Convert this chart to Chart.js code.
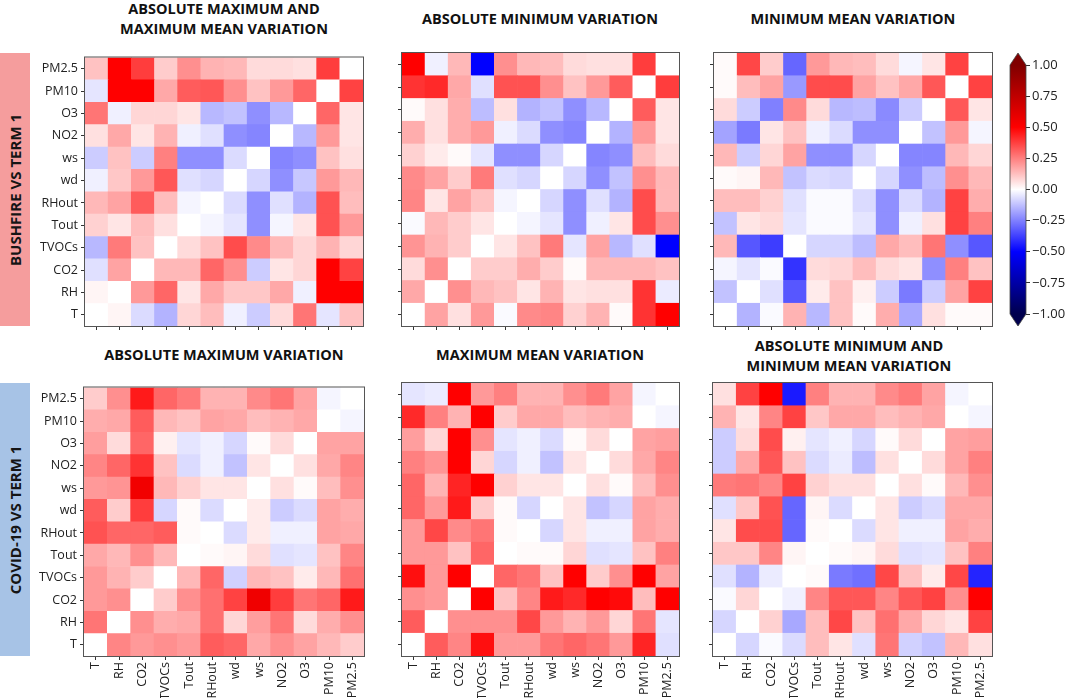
<!DOCTYPE html>
<html><head><meta charset="utf-8">
<script src="https://cdn.jsdelivr.net/npm/chart.js@4.4.0/dist/chart.umd.min.js"></script>
<style>
html,body{margin:0;padding:0;background:#fff;width:1065px;height:699px;overflow:hidden;position:relative;font-family:'Open Sans',sans-serif;}
.title{position:absolute;font-weight:700;font-size:14.5px;color:#111;text-align:center;line-height:20px;white-space:nowrap;transform:translateX(-50%);}
.side{position:absolute;left:0;width:30px;}
.side span{position:absolute;left:50%;top:50%;transform:translate(-50%,-50%) rotate(-90deg);white-space:nowrap;font-weight:700;font-size:15px;color:#151515;}
.box{position:absolute;}
</style></head><body>

<div class="side" style="top:53px;height:273px;background:#f59d9d;"><span>BUSHFIRE VS TERM 1</span></div>
<div class="side" style="top:383px;height:273px;background:#a7c3e6;"><span>COVID-19 VS TERM 1</span></div>

<div class="title" style="left:224px;top:-1px;">ABSOLUTE MAXIMUM AND<br>MAXIMUM MEAN VARIATION</div>
<div class="title" style="left:540px;top:9px;">ABSOLUTE MINIMUM VARIATION</div>
<div class="title" style="left:853px;top:9px;">MINIMUM MEAN VARIATION</div>
<div class="title" style="left:224px;top:345px;">ABSOLUTE MAXIMUM VARIATION</div>
<div class="title" style="left:540px;top:345px;">MAXIMUM MEAN VARIATION</div>
<div class="title" style="left:849px;top:336px;">ABSOLUTE MINIMUM AND<br>MINIMUM MEAN VARIATION</div>

<div class="box" id="b1"><canvas id="c1"></canvas></div>
<div class="box" id="b2"><canvas id="c2"></canvas></div>
<div class="box" id="b3"><canvas id="c3"></canvas></div>
<div class="box" id="b4"><canvas id="c4"></canvas></div>
<div class="box" id="b5"><canvas id="c5"></canvas></div>
<div class="box" id="b6"><canvas id="c6"></canvas></div>
<div class="box" id="b7"><canvas id="c7"></canvas></div>

<script>
// ---------- DATA ----------
const columns = ['T','RH','CO2','TVOCs','Tout','RHout','wd','ws','NO2','O3','PM10','PM2.5'];
const rows = ['PM2.5','PM10','O3','NO2','ws','wd','RHout','Tout','TVOCs','CO2','RH','T']; // top to bottom
const colorbarTicks = [-1,-0.75,-0.5,-0.25,0,0.25,0.5,0.75,1];

// Bushfire vs Term 1 — absolute maximum and maximum mean variation
const bushfireAbsMaxMaxMean = [
 [0.12,0.50,0.38,0.10,0.22,0.15,0.14,0.07,0.07,0.06,0.38,0.00],
 [-0.05,0.50,0.50,0.17,0.32,0.33,0.22,0.12,0.20,0.30,0.00,0.37],
 [0.27,-0.03,0.08,0.08,0.05,-0.14,-0.12,-0.22,-0.14,0.00,0.30,0.05],
 [0.06,0.17,0.05,0.15,-0.03,-0.06,-0.22,-0.24,0.00,-0.14,0.20,0.05],
 [-0.10,0.12,-0.10,0.25,-0.22,-0.22,-0.07,0.00,-0.24,-0.22,0.12,0.06],
 [-0.03,0.11,0.20,0.33,-0.06,-0.08,0.00,-0.08,-0.22,-0.11,0.20,0.14],
 [0.14,0.18,0.32,0.13,-0.02,0.00,-0.07,-0.22,-0.06,-0.15,0.34,0.13],
 [0.09,0.05,0.13,0.06,0.00,-0.02,-0.05,-0.22,-0.02,0.05,0.34,0.20],
 [-0.14,0.26,0.12,0.00,0.07,0.12,0.35,0.23,0.14,0.08,0.15,0.08],
 [-0.06,0.18,0.00,0.14,0.14,0.30,0.22,-0.10,0.05,0.08,0.50,0.37],
 [0.02,0.00,0.20,0.30,0.05,0.17,0.11,0.11,0.17,-0.03,0.50,0.50],
 [0.00,0.02,-0.07,-0.15,0.08,0.13,-0.03,-0.10,0.07,0.27,-0.05,0.12]
];
// Bushfire vs Term 1 — absolute minimum variation
const bushfireAbsMin = [
 [0.50,-0.03,0.14,-0.50,0.22,0.14,0.13,0.07,0.06,0.06,0.38,0.00],
 [0.40,0.42,0.17,-0.06,0.34,0.34,0.22,0.12,0.20,0.32,0.00,0.38],
 [0.01,0.06,0.16,-0.13,0.06,-0.15,-0.12,-0.22,-0.14,0.00,0.32,0.05],
 [0.16,0.06,0.16,0.20,-0.03,-0.07,-0.22,-0.24,0.00,-0.15,0.20,0.05],
 [0.09,0.04,0.01,-0.05,-0.22,-0.22,-0.08,0.00,-0.24,-0.22,0.13,0.07],
 [0.23,0.18,0.10,0.26,-0.06,-0.08,0.00,-0.08,-0.22,-0.12,0.22,0.14],
 [0.24,0.05,0.18,0.12,-0.02,0.00,-0.08,-0.22,-0.06,-0.15,0.35,0.14],
 [-0.01,0.14,0.10,0.05,0.00,-0.02,-0.05,-0.22,-0.03,0.05,0.35,0.22],
 [0.21,0.15,0.10,0.00,0.05,0.12,0.26,-0.05,0.18,-0.14,-0.06,-0.50],
 [0.07,0.22,0.00,0.10,0.10,0.16,0.10,0.01,0.14,0.14,0.14,0.12],
 [0.17,0.00,0.22,0.14,0.12,0.05,0.15,0.05,0.06,0.06,0.40,-0.04],
 [0.00,0.18,0.06,0.20,-0.01,0.23,0.24,0.09,0.15,0.01,0.40,0.50]
];
// Bushfire vs Term 1 — minimum mean variation
const bushfireMinMean = [
 [0.01,0.36,0.10,-0.30,0.20,0.14,0.13,0.07,-0.02,0.05,0.37,0.00],
 [0.01,0.13,0.18,-0.20,0.35,0.35,0.18,0.12,0.17,0.33,0.00,0.37],
 [0.07,-0.10,-0.25,0.23,0.07,-0.14,-0.13,-0.23,-0.10,0.00,0.33,0.05],
 [-0.18,-0.26,0.05,0.12,-0.03,-0.07,-0.22,-0.22,0.00,-0.12,0.20,-0.02],
 [0.14,-0.10,0.08,0.18,-0.22,-0.22,-0.08,0.00,-0.24,-0.24,0.14,0.08],
 [0.01,0.02,0.14,-0.12,-0.07,-0.08,0.00,-0.08,-0.22,-0.13,0.22,0.14],
 [0.13,0.13,0.09,-0.06,-0.01,-0.01,-0.07,-0.22,-0.07,-0.15,0.37,0.16],
 [-0.12,0.05,0.07,-0.05,-0.01,-0.01,-0.05,-0.22,-0.03,0.06,0.37,0.25],
 [0.14,-0.33,-0.38,0.00,-0.08,-0.08,-0.13,0.17,0.13,0.27,-0.22,-0.33],
 [-0.02,-0.05,-0.01,-0.40,0.07,0.08,0.13,0.07,0.05,-0.22,0.25,0.12],
 [-0.12,0.00,-0.06,-0.33,0.04,0.12,0.03,-0.10,-0.26,-0.10,0.18,0.37],
 [0.00,-0.15,-0.01,0.15,-0.14,0.12,0.01,0.16,-0.17,0.06,0.01,0.01]
];
// COVID-19 vs Term 1 — absolute maximum variation
const covidAbsMax = [
 [0.10,0.22,0.45,0.30,0.26,0.15,0.15,0.23,0.27,0.18,-0.02,0.00],
 [0.16,0.17,0.32,0.14,0.12,0.18,0.17,0.13,0.15,0.17,0.00,-0.02],
 [0.19,0.07,0.30,0.03,-0.05,-0.03,-0.08,0.01,0.07,0.00,0.18,0.18],
 [0.24,0.30,0.40,0.12,-0.07,-0.03,-0.12,0.05,0.00,0.06,0.17,0.24],
 [0.20,0.21,0.55,0.14,0.09,0.05,0.05,0.00,0.06,0.01,0.13,0.22],
 [0.32,0.10,0.38,-0.08,0.01,-0.07,0.00,0.04,-0.10,-0.07,0.18,0.16],
 [0.34,0.30,0.30,0.32,0.01,0.00,-0.07,0.04,-0.03,-0.03,0.18,0.17],
 [0.17,0.14,0.22,0.14,0.00,0.01,0.02,0.07,-0.06,-0.05,0.12,0.24],
 [0.20,0.15,0.10,0.00,0.14,0.30,-0.09,0.14,0.12,0.04,0.14,0.28],
 [0.20,0.22,0.00,0.10,0.22,0.28,0.37,0.56,0.38,0.27,0.30,0.45],
 [0.27,0.00,0.22,0.16,0.17,0.28,0.08,0.19,0.27,0.07,0.16,0.22],
 [0.00,0.24,0.20,0.22,0.20,0.32,0.30,0.17,0.22,0.18,0.14,0.10]
];
// COVID-19 vs Term 1 — maximum mean variation
const covidMaxMean = [
 [-0.05,-0.04,0.50,0.20,0.25,0.15,0.15,0.22,0.26,0.18,-0.02,0.00],
 [0.42,0.25,0.15,0.50,0.10,0.17,0.17,0.13,0.15,0.16,0.00,-0.02],
 [0.19,0.08,0.50,0.22,-0.05,-0.03,-0.07,0.01,0.07,0.00,0.18,0.19],
 [0.25,0.21,0.50,0.08,-0.08,-0.03,-0.12,0.05,0.00,0.07,0.17,0.24],
 [0.30,0.15,0.43,0.50,0.09,0.05,0.05,0.00,0.06,0.01,0.13,0.22],
 [0.30,0.20,0.45,0.10,0.01,-0.08,0.00,0.05,-0.12,-0.08,0.18,0.16],
 [0.20,0.36,0.23,0.27,0.01,0.00,-0.08,0.05,-0.03,-0.03,0.18,0.16],
 [0.20,0.20,0.12,0.30,0.00,0.01,0.01,0.08,-0.06,-0.05,0.12,0.25],
 [0.47,0.20,0.50,0.00,0.30,0.27,0.12,0.50,0.10,0.22,0.50,0.18],
 [0.22,0.20,0.00,0.50,0.12,0.24,0.45,0.42,0.50,0.48,0.13,0.50],
 [0.32,0.00,0.22,0.22,0.22,0.36,0.20,0.15,0.20,0.08,0.27,-0.05],
 [0.00,0.32,0.24,0.47,0.20,0.20,0.27,0.30,0.27,0.20,0.43,-0.06]
];
// COVID-19 vs Term 1 — absolute minimum and minimum mean variation
const covidAbsMinMinMean = [
 [0.06,0.37,0.50,-0.45,0.25,0.15,0.15,0.23,0.26,0.18,-0.02,0.00],
 [0.15,0.05,0.24,0.37,0.11,0.17,0.17,0.13,0.15,0.17,0.00,-0.02],
 [-0.10,0.07,0.35,0.03,-0.05,-0.03,-0.08,0.01,0.07,0.00,0.18,0.19],
 [-0.10,0.17,0.33,0.12,-0.07,-0.04,-0.13,0.06,0.00,0.07,0.18,0.25],
 [0.26,0.27,0.24,0.37,0.09,0.06,0.06,0.00,0.06,0.01,0.14,0.22],
 [-0.06,0.11,0.34,-0.30,0.02,-0.07,0.00,0.05,-0.10,-0.07,0.17,0.17],
 [0.05,0.35,0.35,-0.30,0.01,0.00,-0.07,0.05,-0.03,-0.03,0.18,0.16],
 [0.11,0.11,0.24,0.02,0.00,0.01,0.02,0.07,-0.06,-0.05,0.12,0.25],
 [-0.06,-0.15,-0.04,0.00,0.01,-0.26,-0.28,0.36,0.12,0.04,0.36,-0.43],
 [-0.01,0.08,0.00,-0.03,0.24,0.33,0.33,0.24,0.33,0.37,0.22,0.50],
 [-0.08,0.00,0.09,-0.17,0.13,0.36,0.12,0.28,0.17,0.08,0.05,0.37],
 [0.00,-0.08,-0.01,-0.07,0.13,0.05,-0.06,0.27,-0.09,-0.12,0.14,0.06]
];

// ---------- COLORMAP (matplotlib "seismic", vmin -1, vmax 1) ----------
const seismicStops = [[0,0,77],[0,0,255],[255,255,255],[255,0,0],[128,0,0]];
function seismic(v){
  let t = (Math.max(-1, Math.min(1, v)) + 1) / 2 * 4;
  let i = Math.min(3, Math.floor(t)); let f = t - i;
  const a = seismicStops[i], b = seismicStops[i+1];
  return 'rgb(' + [0,1,2].map(k => Math.round(a[k] + (b[k]-a[k])*f)).join(',') + ')';
}

const FONT = {family:"'Open Sans', sans-serif", size:12.5};
const rowsBottomUp = rows.slice().reverse();

const framePlugin = {
  id:'frame',
  afterDraw(chart){
    const a = chart.chartArea, c = chart.ctx;
    c.save(); c.strokeStyle = '#555'; c.lineWidth = 1;
    c.strokeRect(a.left - 0.5, a.top - 0.5, a.right - a.left + 1, a.bottom - a.top + 1);
    c.restore();
  }
};

function makeHeatmap(n, matrix, rect, showY, showX){
  const L = 80, T = 6, R = 6, B = 42;
  const [x0, y0, x1, y1] = rect;
  const W = (x1 - x0) + L + R, H = (y1 - y0) + T + B;
  const box = document.getElementById('b' + n);
  box.style.left = (x0 - L) + 'px'; box.style.top = (y0 - T) + 'px';
  box.style.width = W + 'px'; box.style.height = H + 'px';
  const cv = document.getElementById('c' + n);
  cv.width = W; cv.height = H; cv.style.width = W + 'px'; cv.style.height = H + 'px';
  const datasets = [];
  for (let r = rows.length - 1; r >= 0; r--) {
    datasets.push({
      label: rows[r],
      data: columns.map(() => 1),
      backgroundColor: matrix[r].map(seismic),
      borderWidth: 0, barPercentage: 1, categoryPercentage: 1
    });
  }
  const gridOpt = {display:true, offset:false, drawOnChartArea:false, drawTicks:true, tickLength:4, color:'#333', lineWidth:1};
  new Chart(cv, {
    type:'bar',
    data:{labels: columns, datasets},
    plugins:[framePlugin],
    options:{
      responsive:false, animation:false, devicePixelRatio:1,
      layout:{padding:{left:0, top:T, right:R, bottom:0}, autoPadding:false},
      plugins:{legend:{display:false}, tooltip:{enabled:false}, title:{display:false}},
      scales:{
        x:{type:'category', stacked:true, offset:true, grid:gridOpt, border:{display:false},
           ticks:{display:showX, autoSkip:false, minRotation:90, maxRotation:90, padding:2, color:'#222', font:FONT},
           afterFit(s){ s.height = B; }},
        y:{type:'linear', stacked:true, min:0, max:rows.length, grid:gridOpt, border:{display:false},
           ticks:{display:showY, padding:3, color:'#222', font:FONT, callback:(v, i) => rowsBottomUp[i]},
           afterBuildTicks(s){ s.ticks = rowsBottomUp.map((_, i) => ({value: i + 0.5})); },
           afterFit(s){ s.width = L; }}
      }
    }
  });
}

makeHeatmap(1, bushfireAbsMaxMaxMean, [85,53,363,326], true, false);
makeHeatmap(2, bushfireAbsMin, [402,53,679,326], false, false);
makeHeatmap(3, bushfireMinMean, [714,53,992,326], false, false);
makeHeatmap(4, covidAbsMax, [84,383,364,656], true, true);
makeHeatmap(5, covidMaxMean, [402,383,679,656], false, true);
makeHeatmap(6, covidAbsMinMinMean, [713,383,992,656], false, true);

// ---------- COLORBAR ----------
(function(){
  const box = document.getElementById('b7');
  const W = 65, H = 290, left = 1000, top = 40;
  box.style.left = left + 'px'; box.style.top = top + 'px';
  const cv = document.getElementById('c7');
  cv.width = W; cv.height = H; cv.style.width = W + 'px'; cv.style.height = H + 'px';
  const cbPlugin = {
    id:'cbends',
    afterDatasetsDraw(chart){
      const a = chart.chartArea, c = chart.ctx, ys = chart.scales.y;
      const t = ys.getPixelForValue(1), b = ys.getPixelForValue(-1);
      const l = a.left, r = a.right, m = (l + r) / 2, h = 12;
      c.save();
      c.fillStyle = seismic(1);
      c.beginPath(); c.moveTo(l, t); c.lineTo(m, t - h); c.lineTo(r, t); c.closePath(); c.fill();
      c.fillStyle = seismic(-1);
      c.beginPath(); c.moveTo(l, b); c.lineTo(m, b + h); c.lineTo(r, b); c.closePath(); c.fill();
      c.beginPath(); c.moveTo(l, t); c.lineTo(m, t - h); c.lineTo(r, t); c.lineTo(r, b); c.lineTo(m, b + h); c.lineTo(l, b); c.closePath();
      c.strokeStyle = '#444'; c.lineWidth = 0.8; c.stroke();
      c.restore();
    }
  };
  new Chart(cv, {
    type:'bar',
    data:{labels:[''], datasets:[{
      data:[[colorbarTicks[0], colorbarTicks[colorbarTicks.length-1]]],
      backgroundColor:(ctx) => {
        const ch = ctx.chart, a = ch.chartArea;
        if (!a) return '#fff';
        const ys = ch.scales.y;
        const g = ch.ctx.createLinearGradient(0, ys.getPixelForValue(-1), 0, ys.getPixelForValue(1));
        seismicStops.forEach((s, i) => g.addColorStop(i / 4, 'rgb(' + s.join(',') + ')'));
        return g;
      },
      borderWidth:0, barPercentage:1, categoryPercentage:1
    }]},
    plugins:[cbPlugin],
    options:{
      responsive:false, animation:false, devicePixelRatio:1,
      layout:{padding:{left:10, top:25, right:0, bottom:16}, autoPadding:false},
      plugins:{legend:{display:false}, tooltip:{enabled:false}},
      scales:{
        x:{display:false},
        y:{position:'right', min:-1, max:1,
           grid:{display:true, drawOnChartArea:false, drawTicks:true, tickLength:4, color:'#333'},
           border:{display:false},
           ticks:{padding:2, color:'#222', font:{family:"'Open Sans', sans-serif", size:13},
                  callback:(v) => (v < 0 ? '\u2212' : '') + Math.abs(v).toFixed(2)},
           afterBuildTicks(s){ s.ticks = colorbarTicks.map(v => ({value:v})); },
           afterFit(s){ s.width = 39; }}
      }
    }
  });
})();
</script>
</body></html>
